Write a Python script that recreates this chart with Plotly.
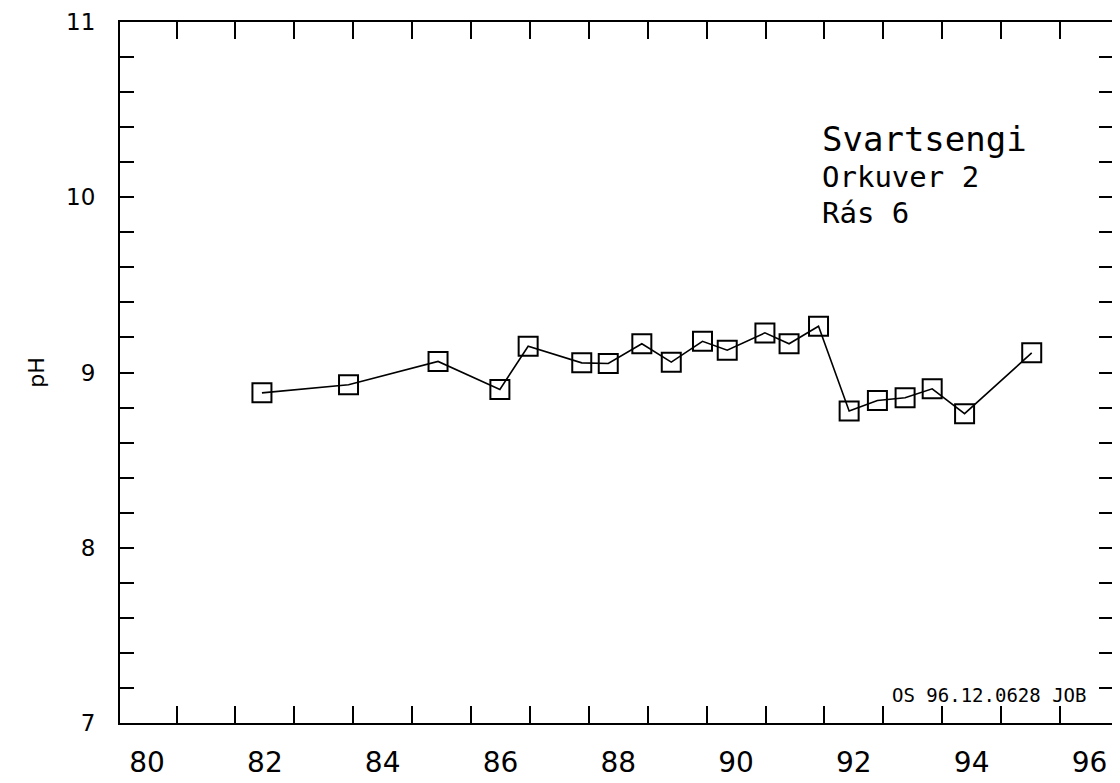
import plotly.graph_objects as go

years = [81.95, 83.42, 84.94, 85.99, 86.47, 87.38, 87.83, 88.40, 88.90, 89.43,
         89.85, 90.49, 90.90, 91.40, 91.92, 92.40, 92.87, 93.33, 93.88, 95.02]
ph = [8.884, 8.93, 9.063, 8.903, 9.15, 9.055, 9.051, 9.164, 9.059, 9.178,
      9.127, 9.226, 9.164, 9.264, 8.78, 8.84, 8.856, 8.907, 8.765, 9.112]

x_label_vals = [80, 82, 84, 86, 88, 90, 92, 94, 96]
x_tick_vals = [v + 0.5 for v in range(80, 96)]
y_label_vals = [7, 8, 9, 10, 11]
title_lines = ["Svartsengi", "Orkuver 2", "Rás 6"]
stamp = "OS 96.12.0628 JOB"

# page offset of the figure (default body margin)
OFF = 8
PX0, PX1, PY0, PY1 = 120, 1113, 22, 723   # plot area in page pixels
W, H = 1120 - OFF, 783 - OFF
PW, PH_ = PX1 - PX0, PY1 - PY0

fig = go.Figure()
fig.add_trace(go.Scatter(
    x=years, y=ph, mode="lines+markers",
    line=dict(color="black", width=1.6),
    marker=dict(symbol="square-open", size=19, color="black", line=dict(width=2, color="black")),
    showlegend=False, hoverinfo="x+y"))

fig.update_layout(
    width=W, height=H,
    margin=dict(l=PX0 - OFF, r=W - (PX1 - OFF), t=PY0 - OFF, b=H - (PY1 - OFF), pad=0),
    paper_bgcolor="white", plot_bgcolor="white",
    font=dict(family="DejaVu Sans", color="black"),
    xaxis=dict(
        range=[79.54, 96.40], tickmode="array", tickvals=x_label_vals,
        ticktext=[str(v) for v in x_label_vals], ticks="", showgrid=False,
        zeroline=False, showline=True, linecolor="black", linewidth=2, mirror="allticks",
        tickfont=dict(size=28, family="DejaVu Sans"), ticklabelstandoff=13,
        automargin=False,
        minor=dict(tickmode="array", tickvals=x_tick_vals, ticks="inside",
                   ticklen=17, tickwidth=2, tickcolor="black", showgrid=False),
    ),
    yaxis=dict(
        range=[7, 11], tickmode="array", tickvals=y_label_vals,
        ticks="inside", ticklen=14, tickwidth=2, tickcolor="black",
        showgrid=False, zeroline=False, showline=True, linecolor="black",
        linewidth=2, mirror="allticks", tickfont=dict(size=23, family="DejaVu Sans"),
        ticklabelstandoff=18, automargin=False,
        minor=dict(dtick=0.2, tick0=7, ticks="inside", ticklen=14, tickwidth=2,
                   tickcolor="black", showgrid=False),
        title=dict(text="pH", font=dict(size=22), standoff=15),
    ),
)

for i, t in enumerate(title_lines):
    fig.add_annotation(
        text=t, xref="paper", yref="paper", x=(820 - PX0) / PW, y=(PY1 - [139, 177, 213][i]) / PH_,
        xanchor="left", yanchor="middle", showarrow=False,
        font=dict(family="DejaVu Sans Mono", size=[34, 29, 29][i], color="black"))

fig.add_annotation(
    text=stamp, xref="paper", yref="paper", x=(1088 - PX0) / PW, y=(PY1 - 695) / PH_,
    xanchor="right", yanchor="middle", showarrow=False,
    font=dict(family="DejaVu Sans Mono", size=19, color="black"))

fig.write_html("out.html")
